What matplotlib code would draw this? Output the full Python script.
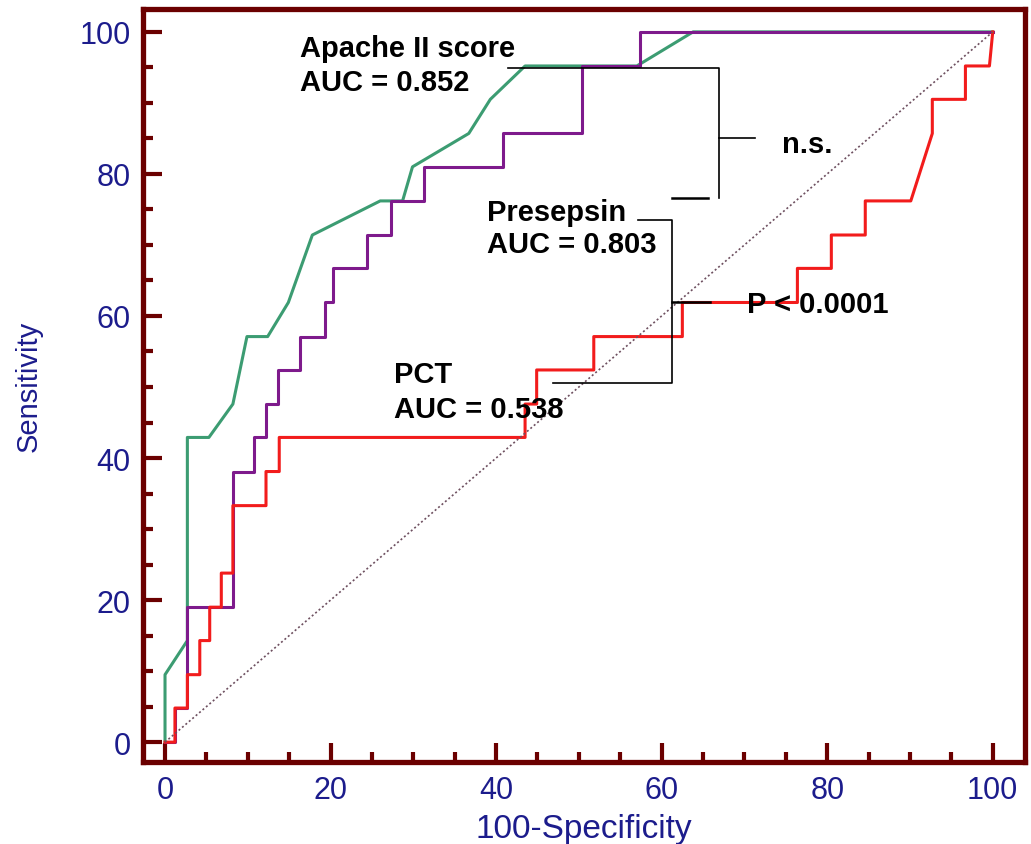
import matplotlib
matplotlib.use('Agg')
import matplotlib.pyplot as plt
from matplotlib.ticker import MultipleLocator

# ROC points (100-Specificity, Sensitivity)
apache_x = [0, 0, 2.7, 2.7, 5.3, 8.2, 9.9, 12.4, 14.9, 17.8, 26.0, 28.7, 29.9, 36.7, 39.3, 43.5, 57.0, 63.8, 100]
apache_y = [0, 9.5, 14.3, 42.9, 42.9, 47.6, 57.1, 57.1, 61.9, 71.4, 76.2, 76.2, 81.0, 85.7, 90.5, 95.2, 95.2, 100, 100]

presepsin_x = [0, 1.2, 1.2, 2.7, 2.7, 8.2, 8.2, 10.7, 10.7, 12.2, 12.2, 13.7, 13.7, 16.3, 16.3, 19.3, 19.3,
               20.3, 20.3, 24.4, 24.4, 27.3, 27.3, 31.3, 31.3, 40.8, 40.8, 50.4, 50.4, 57.4, 57.4, 100]
presepsin_y = [0, 0, 4.8, 4.8, 19.0, 19.0, 38.1, 38.1, 42.9, 42.9, 47.6, 47.6, 52.4, 52.4, 57.1, 57.1, 61.9,
               61.9, 66.7, 66.7, 71.4, 71.4, 76.2, 76.2, 81.0, 81.0, 85.7, 85.7, 95.2, 95.2, 100, 100]

pct_x = [0, 1.2, 1.2, 2.7, 2.7, 4.2, 4.2, 5.4, 5.4, 6.8, 6.8, 8.2, 8.2, 12.2, 12.2, 13.8, 13.8, 43.5, 43.5,
         44.9, 44.9, 51.8, 51.8, 62.5, 62.5, 76.4, 76.4, 80.5, 80.5, 84.6, 84.6, 90.1, 92.7, 92.7, 96.7, 96.7,
         99.6, 100]
pct_y = [0, 0, 4.8, 4.8, 9.5, 9.5, 14.3, 14.3, 19.0, 19.0, 23.8, 23.8, 33.3, 33.3, 38.1, 38.1, 42.9, 42.9, 47.6,
         47.6, 52.4, 52.4, 57.1, 57.1, 61.9, 61.9, 66.7, 66.7, 71.4, 71.4, 76.2, 76.2, 85.7, 90.5, 90.5, 95.2,
         95.2, 100]

ref_line = [0, 100]

plt.rcParams['font.family'] = ['Liberation Sans', 'DejaVu Sans']

frame = '#6b0000'
navy = '#1c1c8c'

fig = plt.figure(figsize=(10.31, 8.45), dpi=100)
ax = fig.add_axes([0.1387, 0.097, 0.8555, 0.891])

ax.plot(apache_x, apache_y, color='#3c9c72', lw=2.2, zorder=3)
ax.plot(presepsin_x, presepsin_y, color='#7e1a8c', lw=2.2, zorder=4)
ax.plot(pct_x, pct_y, color='#f21c1c', lw=2.2, zorder=5)
ax.plot(ref_line, ref_line, color='#6e5060', lw=1.2, ls=(0, (1.2, 1.5)), zorder=6)

# comparison brackets
k = dict(color='black', lw=1.2, zorder=7)
ax.plot([41.4, 66.9, 66.9], [94.9, 94.9, 76.6], **k)
ax.plot([61.2, 65.6], [76.6, 76.6], color='black', lw=1.8, zorder=7)
ax.plot([66.9, 71.3], [85.1, 85.1], **k)
ax.plot([57.1, 61.2, 61.2, 46.9], [73.5, 73.5, 50.6, 50.6], **k)
ax.plot([61.2, 65.8], [62.0, 62.0], color='black', lw=1.8, zorder=7)

# labels
t = dict(fontsize=21, fontweight='bold', color='black', ha='left', va='center', zorder=8)
ax.text(16.3, 97.7, 'Apache II score', **t)
ax.text(16.3, 92.9, 'AUC = 0.852', **t)
ax.text(38.9, 74.6, 'Presepsin', **t)
ax.text(38.9, 70.1, 'AUC = 0.803', **t)
ax.text(27.7, 51.8, 'PCT', **t)
ax.text(27.7, 46.9, 'AUC = 0.538', **t)
ax.text(74.5, 84.2, 'n.s.', **t)
ax.text(70.3, 61.7, 'P < 0.0001', **t)

ax.set_xlim(-2.66, 103.9)
ax.set_ylim(-2.8, 103.2)
ax.xaxis.set_major_locator(MultipleLocator(20))
ax.yaxis.set_major_locator(MultipleLocator(20))
ax.xaxis.set_minor_locator(MultipleLocator(5))
ax.yaxis.set_minor_locator(MultipleLocator(5))

for s in ax.spines.values():
    s.set_color(frame)
    s.set_linewidth(3.8)

ax.tick_params(which='major', direction='in', length=14, width=3, color=frame,
               labelsize=22, labelcolor=navy, pad=9)
ax.tick_params(which='minor', direction='in', length=7, width=3, color=frame)

ax.set_xlabel('100-Specificity', fontsize=24, color=navy, labelpad=6)
ax.set_ylabel('Sensitivity', fontsize=21, color=navy, labelpad=26)

fig.savefig('out.png', dpi=100)
